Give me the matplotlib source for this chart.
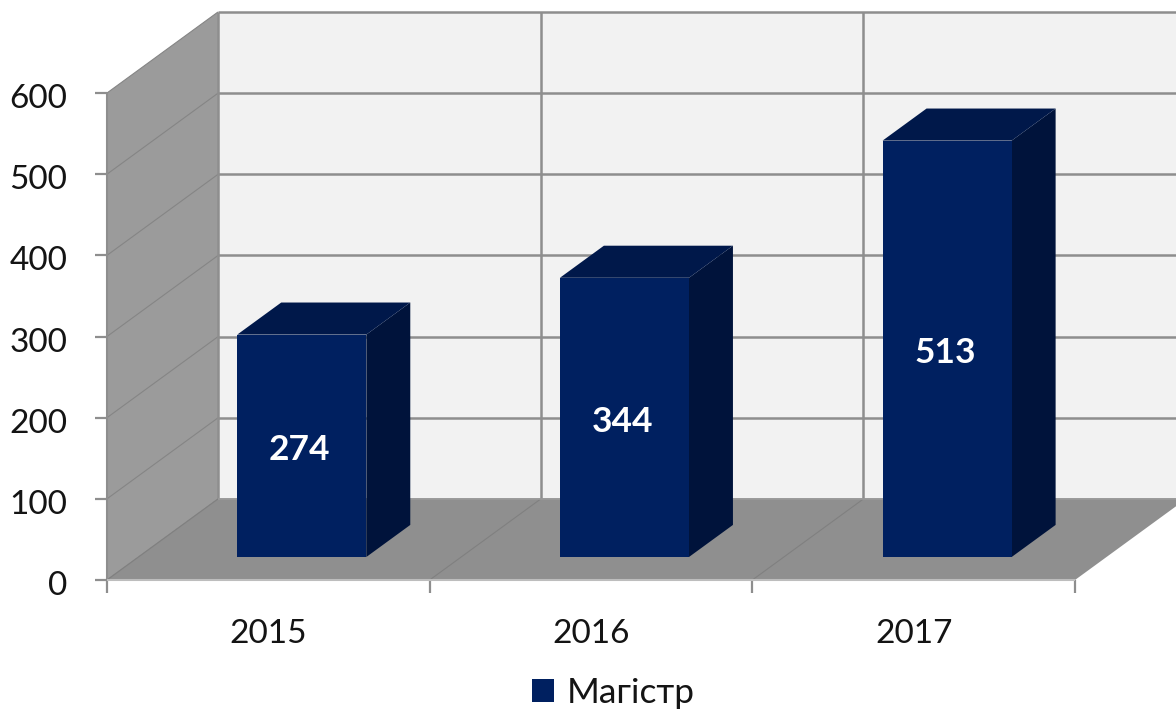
import matplotlib
matplotlib.use("Agg")
import matplotlib.pyplot as plt
from matplotlib.patches import Patch, Polygon
from matplotlib.transforms import ScaledTranslation

plt.rcParams['font.family'] = ['Lato', 'Noto Sans', 'DejaVu Sans']

# ===================== data =====================
years = ['2015', '2016', '2017']
values = [274, 344, 513]
y_ticks = [0, 100, 200, 300, 400, 500, 600]
series_name = 'Магістр'

# ===================== colours =====================
WALL = '#9b9b9b'
BACK = '#f2f2f2'
FLOOR = '#8f8f8f'
GRID = '#8e8e8e'
FRONT = '#002060'
TOP = '#00184a'
SIDE = '#00133b'
TEXT = '#141414'

# ===================== oblique projection =====================
W, H = 1176, 711
LEFT, RIGHT, BOTTOM, TOP_PX = 107, 1075, 580, 93
DEPTH_X = 111 * len(years) / (RIGHT - LEFT)          # categories per full depth
DEPTH_Y = 81 * max(y_ticks) / (BOTTOM - TOP_PX)      # value units per full depth
BAR_D0, BAR_D1 = 0.284, 0.68
BAR_W = 0.40
BAR_SHIFT = 0.006


def pr(x, y, d=0.0):
    return (x + d * DEPTH_X, y + d * DEPTH_Y)


def face(ax, pts, color, z, edge='none'):
    ax.add_patch(Polygon(pts, closed=True, facecolor=color, edgecolor=edge,
                         linewidth=0.6, clip_on=False, zorder=z))


def line(ax, a, b, lw, color=GRID, z=2):
    ax.plot([a[0], b[0]], [a[1], b[1]], color=color, lw=lw, clip_on=False,
            solid_capstyle='butt', zorder=z)


fig = plt.figure(figsize=(W / 100, H / 100), dpi=100, facecolor='white')
ax = fig.add_axes([LEFT / W, 1 - BOTTOM / H, (RIGHT - LEFT) / W, (BOTTOM - TOP_PX) / H])
n = len(years)
ymax = max(y_ticks)
ax.set_xlim(0, n)
ax.set_ylim(0, ymax)
ax.patch.set_visible(False)
for s in ax.spines.values():
    s.set_visible(False)

# walls and floor
face(ax, [pr(0, 0, 1), pr(n, 0, 1), pr(n, ymax, 1), pr(0, ymax, 1)], BACK, 1)
face(ax, [pr(0, 0, 0), pr(0, 0, 1), pr(0, ymax, 1), pr(0, ymax, 0)], WALL, 1)

for t in y_ticks:
    line(ax, pr(0, t, 1), pr(n, t, 1), 1.8)
    line(ax, pr(0, t, 0), pr(0, t, 1), 0.8, '#858585')
for k in range(n + 1):
    line(ax, pr(k, 0, 1), pr(k, ymax, 1), 1.8)
line(ax, pr(0, 0, 0), pr(0, ymax, 0), 1.5)

face(ax, [pr(0, 0, 0), pr(n, 0, 0), pr(n, 0, 1), pr(0, 0, 1)], FLOOR, 3)
for k in range(n):
    line(ax, pr(k, 0, 0), pr(k, 0, 1), 0.8, '#808080', z=4)
line(ax, pr(0, 0, 0), pr(n, 0, 0), 1.5, '#bdbdbd', z=4)
line(ax, pr(0, 0, 1), pr(n, 0, 1), 1.2, '#9a9a9a', z=4)

# bars
for i, v in enumerate(values):
    x0 = i + 0.5 + BAR_SHIFT - BAR_W / 2
    x1 = i + 0.5 + BAR_SHIFT + BAR_W / 2
    face(ax, [pr(x1, 0, BAR_D0), pr(x1, 0, BAR_D1), pr(x1, v, BAR_D1), pr(x1, v, BAR_D0)], SIDE, 5)
    face(ax, [pr(x0, v, BAR_D0), pr(x1, v, BAR_D0), pr(x1, v, BAR_D1), pr(x0, v, BAR_D1)], TOP, 5)
    face(ax, [pr(x0, 0, BAR_D0), pr(x1, 0, BAR_D0), pr(x1, v, BAR_D0), pr(x0, v, BAR_D0)], FRONT, 6)
    ax.annotate(str(v), pr(i + 0.5, v / 2, BAR_D0), xytext=(0, -1.2), textcoords='offset points',
                color='white', fontsize=25.5, fontweight='bold',
                ha='center', va='center_baseline', zorder=7)

# axes ticks
ax.set_yticks(y_ticks)
ax.set_xticks(range(n + 1))
ax.set_xticklabels([])
ax.set_xticks([i + 0.5 for i in range(n)], minor=True)
ax.set_xticklabels(years, minor=True)
ax.tick_params(axis='y', length=8.6, width=1.6, color=GRID, pad=20, labelsize=24, labelcolor=TEXT)
ax.tick_params(axis='x', which='major', length=9.5, width=1.6, color=GRID)
ax.tick_params(axis='x', which='minor', length=0, pad=28, labelsize=24, labelcolor=TEXT)

# labels in the reference sit a little below the tick
down = ScaledTranslation(0, -3 / 100, fig.dpi_scale_trans)
for lab in ax.get_yticklabels():
    lab.set_transform(lab.get_transform() + down)

handle = Patch(facecolor=FRONT, edgecolor='none', label=series_name)
fig.legend(handles=[handle], loc='center', bbox_to_anchor=(613 / W, 1 - 693 / H),
           frameon=False, fontsize=25.5, labelcolor=TEXT, handlelength=0.62,
           handleheight=0.62, handletextpad=0.36, borderpad=0)

fig.savefig('out.png', dpi=100, facecolor='white')
